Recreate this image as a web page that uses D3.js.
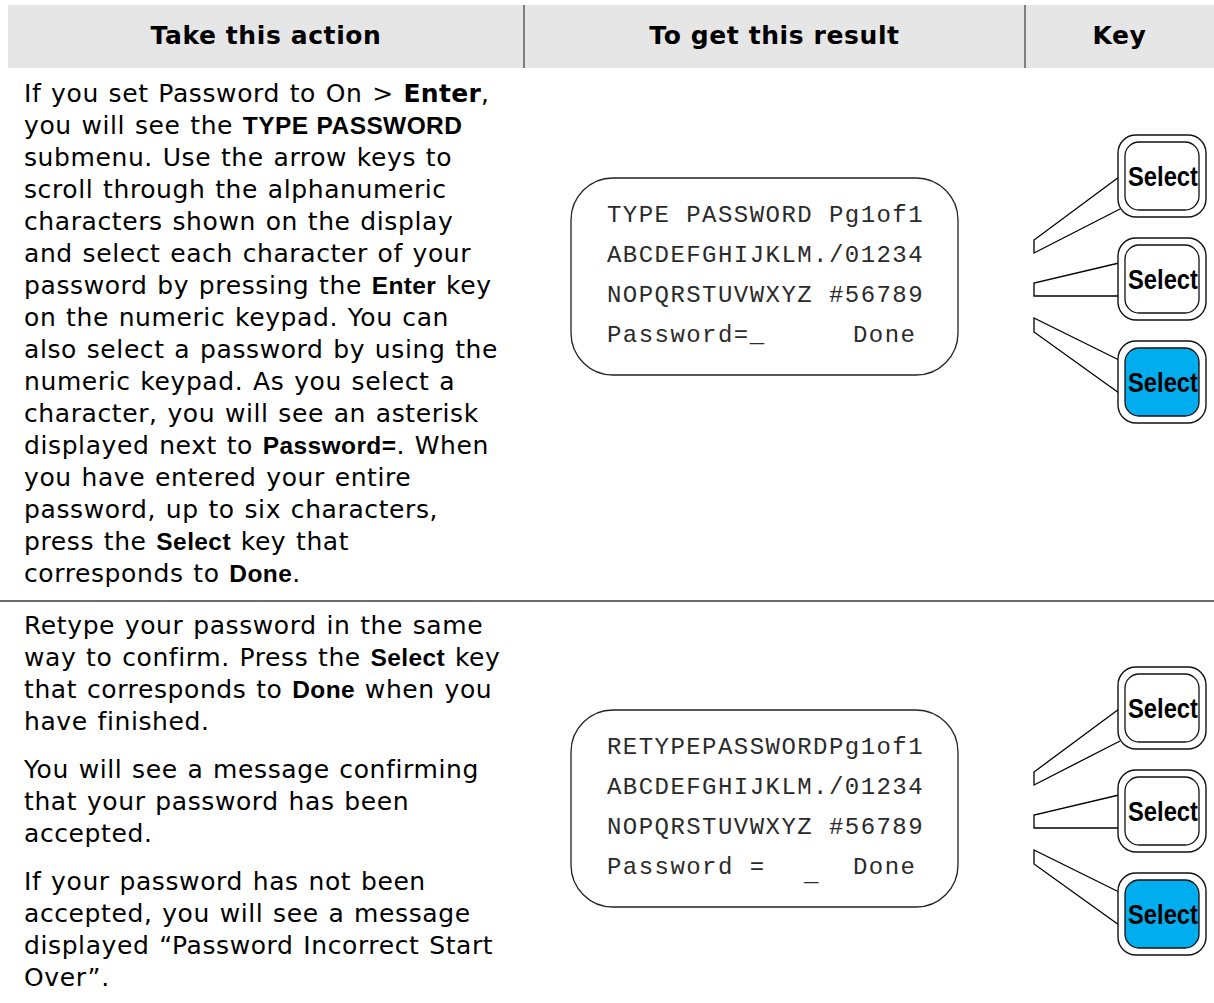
<!DOCTYPE html>
<html>
<head>
<meta charset="utf-8">
<script src="https://cdn.jsdelivr.net/npm/d3@7"></script>
<style>
  html, body { margin: 0; padding: 0; background: #fff; }
  svg { display: block; }
</style>
</head>
<body>
<div id="chart"></div>
<script>
// ---------- data ----------
const headers = ["Take this action", "To get this result", "Key"];

// ** ... ** = Arial-style bold, ^^ ... ^^ = Verdana-style bold
const row1Paragraphs = [[
  "If you set Password to On > ^^Enter^^,",
  "you will see the **TYPE PASSWORD**",
  "submenu. Use the arrow keys to",
  "scroll through the alphanumeric",
  "characters shown on the display",
  "and select each character of your",
  "password by pressing the **Enter** key",
  "on the numeric keypad. You can",
  "also select a password by using the",
  "numeric keypad. As you select a",
  "character, you will see an asterisk",
  "displayed next to **Password=**. When",
  "you have entered your entire",
  "password, up to six characters,",
  "press the **Select** key that",
  "corresponds to **Done**."
]];

const row2Paragraphs = [
  ["Retype your password in the same",
   "way to confirm. Press the **Select** key",
   "that corresponds to **Done** when you",
   "have finished."],
  ["You will see a message confirming",
   "that your password has been",
   "accepted."],
  ["If your password has not been",
   "accepted, you will see a message",
   "displayed \u201CPassword Incorrect Start",
   "Over\u201D."]
];

const display1Lines = ["TYPE PASSWORD Pg1of1", "ABCDEFGHIJKLM./01234", "NOPQRSTUVWXYZ #56789", "Password=_"];
const display1Done = "Done";
const display2Lines = ["RETYPEPASSWORDPg1of1", "ABCDEFGHIJKLM./01234", "NOPQRSTUVWXYZ #56789", "Password ="];
const display2Cursor = "_";
const display2Done = "Done";

const keyLabels = ["Select", "Select", "Select"];
const activeKey = 2;

// ---------- setup ----------
const W = 1214, H = 1003;
const svg = d3.select("#chart").append("svg").attr("width", W).attr("height", H);

const BODY_FONT = "'DejaVu Sans', Verdana, sans-serif";
const ARIAL = "'Liberation Sans', Arial, sans-serif";
const MONO = "'Liberation Mono', 'Courier New', monospace";
const MONO_SIZE = 24, MONO_LS = 1.45;

// column scale (edges)
const colX = d3.scaleLinear().domain([0, 1, 2, 3]).range([8, 524, 1025, 1214]);

// ---------- header ----------
svg.append("rect").attr("x", colX(0)).attr("y", 5)
  .attr("width", colX(3) - colX(0)).attr("height", 63).attr("fill", "#e6e6e6");
[1, 2].forEach(i => {
  svg.append("line").attr("x1", colX(i)).attr("x2", colX(i))
    .attr("y1", 5).attr("y2", 68).attr("stroke", "#3a3a3a").attr("stroke-width", 1.2);
});
svg.selectAll("text.hdr").data(headers).join("text")
  .attr("class", "hdr")
  .attr("x", (d, i) => (colX(i) + colX(i + 1)) / 2)
  .attr("y", 44)
  .attr("text-anchor", "middle")
  .attr("font-family", BODY_FONT)
  .attr("font-weight", "bold")
  .attr("font-size", 25)
  .attr("letter-spacing", 0.6)
  .attr("fill", "#000")
  .text(d => d);

// row divider
svg.append("line").attr("x1", 0).attr("x2", W).attr("y1", 601).attr("y2", 601)
  .attr("stroke", "#3a3a3a").attr("stroke-width", 1.5);

// ---------- body text ----------
function parseSegments(line) {
  const segs = [];
  const re = /(\*\*[^*]+\*\*|\^\^[^^]+\^\^)/g;
  let last = 0, m;
  while ((m = re.exec(line)) !== null) {
    if (m.index > last) segs.push({ t: line.slice(last, m.index), s: "n" });
    const tok = m[0];
    segs.push({ t: tok.slice(2, -2), s: tok[0] === "*" ? "a" : "v" });
    last = m.index + tok.length;
  }
  if (last < line.length) segs.push({ t: line.slice(last), s: "n" });
  return segs;
}

function drawParagraphs(paragraphs, firstBaseline) {
  const lineStep = 32, paraGap = 16;
  const items = [];
  let idx = 0;
  paragraphs.forEach((p, pi) => {
    p.forEach(l => { items.push({ line: l, idx: idx, para: pi }); idx++; });
  });
  const yScale = d3.scaleLinear().domain([0, 1]).range([firstBaseline, firstBaseline + lineStep]);
  const texts = svg.append("g").selectAll("text").data(items).join("text")
    .attr("x", 24)
    .attr("y", d => yScale(d.idx) + d.para * paraGap)
    .attr("fill", "#000")
    .attr("xml:space", "preserve");
  texts.each(function (d) {
    const t = d3.select(this);
    parseSegments(d.line).forEach(seg => {
      const ts = t.append("tspan").text(seg.t);
      if (seg.s === "n") {
        ts.attr("font-family", BODY_FONT).attr("font-size", 25)
          .attr("letter-spacing", 0.6).attr("word-spacing", 1.2);
      } else if (seg.s === "v") {
        ts.attr("font-family", BODY_FONT).attr("font-size", 25).attr("font-weight", "bold").attr("letter-spacing", 0.3);
      } else {
        ts.attr("font-family", ARIAL).attr("font-size", 24.5).attr("font-weight", "bold")
          .attr("letter-spacing", 0.4).attr("word-spacing", 1);
      }
    });
  });
}
drawParagraphs(row1Paragraphs, 102);
drawParagraphs(row2Paragraphs, 634);

// ---------- display boxes ----------
function monoText(sel) {
  return sel.attr("font-family", MONO).attr("font-size", MONO_SIZE)
    .attr("letter-spacing", MONO_LS).attr("fill", "#2a2a2a");
}
function drawDisplay(top, lines, extra) {
  const g = svg.append("g");
  g.append("rect").attr("x", 571).attr("y", top).attr("width", 387).attr("height", 197)
    .attr("rx", 42).attr("ry", 42)
    .attr("fill", "#fff").attr("stroke", "#222").attr("stroke-width", 1.3);
  const ly = d3.scaleLinear().domain([0, 1]).range([top + 44, top + 84]);
  g.selectAll("text.ln").data(lines).join("text")
    .attr("class", "ln")
    .attr("x", 607).attr("y", (d, i) => ly(i))
    .attr("xml:space", "preserve")
    .call(monoText)
    .text(d => d);
  extra(g, ly);
}
drawDisplay(178, display1Lines, (g, ly) => {
  g.append("text").attr("x", 853).attr("y", ly(3))
    .call(monoText).text(display1Done);
});
drawDisplay(710, display2Lines, (g, ly) => {
  g.append("text").attr("x", 804).attr("y", ly(3) + 7)
    .call(monoText).text(display2Cursor);
  g.append("text").attr("x", 853).attr("y", ly(3))
    .call(monoText).text(display2Done);
});

// ---------- keys ----------
function drawKeys(firstTop) {
  const ky = d3.scaleLinear().domain([0, 1]).range([firstTop, firstTop + 103]);
  const g = svg.append("g");
  const calloutPts = [
    kt => [[1119, kt + 42], [1034, kt + 105], [1034, kt + 118], [1120, kt + 74]],
    kt => [[1119, kt + 25], [1034, kt + 45], [1034, kt + 58], [1120, kt + 58]],
    kt => [[1119, kt + 19], [1034, kt - 23], [1034, kt - 9], [1119, kt + 52]]
  ];
  const line = d3.line();
  keyLabels.forEach((lab, i) => {
    const kt = ky(i);
    g.append("path").attr("d", line(calloutPts[i](kt)))
      .attr("fill", "none").attr("stroke", "#000").attr("stroke-width", 1.3);
    g.append("rect").attr("x", 1118).attr("y", kt).attr("width", 88).attr("height", 82)
      .attr("rx", 18).attr("ry", 18)
      .attr("fill", "#fff").attr("stroke", "#111").attr("stroke-width", 1.4);
    g.append("rect").attr("x", 1125).attr("y", kt + 7).attr("width", 74).attr("height", 68)
      .attr("rx", 14).attr("ry", 14)
      .attr("fill", i === activeKey ? "#00aeef" : "#fff")
      .attr("stroke", "#111").attr("stroke-width", 1.3);
    g.append("text").attr("x", 1163).attr("y", kt + 51)
      .attr("text-anchor", "middle")
      .attr("font-family", ARIAL).attr("font-weight", "bold").attr("font-size", 27)
      .attr("textLength", 70).attr("lengthAdjust", "spacingAndGlyphs")
      .attr("fill", "#000").text(lab);
  });
}
drawKeys(135);
drawKeys(667);
</script>
</body>
</html>
